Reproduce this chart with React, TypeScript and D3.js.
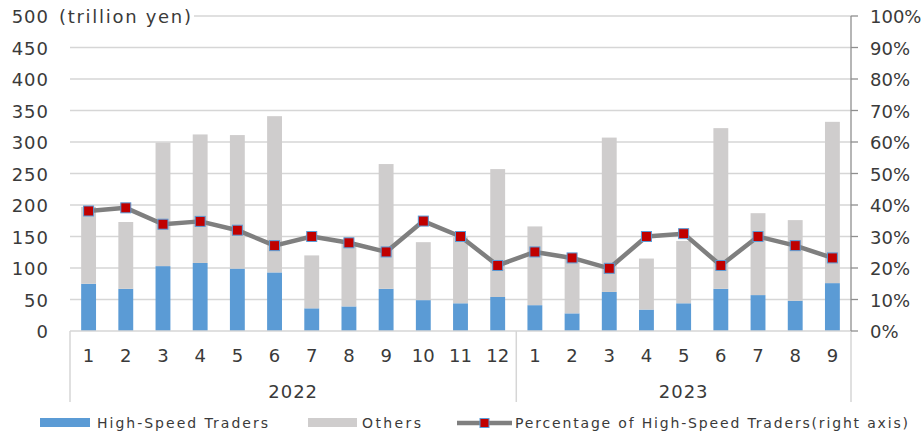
import { useEffect, useRef } from 'react'
import * as d3 from 'd3';

// Monthly turnover (trillion yen) and share of high-speed traders
const years = ['2022', '2023'];
const months = ['1', '2', '3', '4', '5', '6', '7', '8', '9', '10', '11', '12', '1', '2', '3', '4', '5', '6', '7', '8', '9'];
const monthYear = [0, 0, 0, 0, 0, 0, 0, 0, 0, 0, 0, 0, 1, 1, 1, 1, 1, 1, 1, 1, 1];
const highSpeed = [75, 67, 103, 108, 99, 93, 36, 39, 67, 49, 44, 54, 41, 28, 62, 34, 44, 67, 57, 48, 76];
const others = [122, 106, 196, 204, 212, 248, 84, 101, 198, 92, 105, 203, 125, 87, 245, 81, 99, 255, 130, 128, 256];
const hstShare = [38.1, 39.1, 33.9, 34.8, 32.0, 27.1, 30.0, 28.0, 25.1, 34.9, 30.0, 20.8, 25.1, 23.2, 19.9, 30.0, 30.9, 20.8, 30.0, 27.1, 23.2];
const leftTicks = [0, 50, 100, 150, 200, 250, 300, 350, 400, 450, 500];
const rightTicks = [0, 10, 20, 30, 40, 50, 60, 70, 80, 90, 100];

const App = () => {

  const canvas = useRef<SVGSVGElement>(null);

  useEffect(() => {

    const svg = d3.select(canvas.current);
    svg.selectAll('*').remove();

    const font = '"DejaVu Sans", sans-serif';
    const textColor = '#3a3a3a';
    const left = 70, right = 851, top = 16, bottom = 331;

    const x = d3.scaleBand<number>()
      .domain(months.map((d, i) => i))
      .range([left, right])
      .paddingInner(0.6)
      .paddingOuter(0.3);

    const y = d3.scaleLinear().domain([0, 500]).range([bottom, top]);
    const yr = d3.scaleLinear().domain([0, 100]).range([bottom, top]);

    // Gridlines
    svg.append('g')
      .selectAll('line')
      .data(leftTicks.slice(1))
      .join('line')
      .attr('x1', left).attr('x2', right)
      .attr('y1', (d) => y(d)).attr('y2', (d) => y(d))
      .attr('stroke', '#d6d6d6').attr('stroke-width', 1.3);

    // Left axis labels
    svg.append('g')
      .selectAll('text')
      .data(leftTicks)
      .join('text')
      .attr('x', 49)
      .attr('y', (d) => y(d) + 7)
      .attr('text-anchor', 'end')
      .attr('font-family', font).attr('font-size', 18).attr('letter-spacing', 1)
      .attr('fill', textColor)
      .text((d) => d);

    // Unit label
    svg.append('rect').attr('x', 56).attr('y', 4).attr('width', 138).attr('height', 22).attr('fill', '#fff');
    svg.append('text')
      .attr('x', 59).attr('y', y(500) + 7)
      .attr('font-family', font).attr('font-size', 18)
      .attr('fill', textColor)
      .attr('textLength', 132)
      .text('(trillion yen)');

    // Stacked bars
    const bars = svg.append('g');
    bars.selectAll('rect.hst')
      .data(highSpeed)
      .join('rect')
      .attr('class', 'hst')
      .attr('x', (d, i) => x(i))
      .attr('width', x.bandwidth())
      .attr('y', (d) => y(d))
      .attr('height', (d) => y(0) - y(d))
      .attr('fill', '#5b9bd5');
    bars.selectAll('rect.oth')
      .data(others)
      .join('rect')
      .attr('class', 'oth')
      .attr('x', (d, i) => x(i))
      .attr('width', x.bandwidth())
      .attr('y', (d, i) => y(d + highSpeed[i]))
      .attr('height', (d) => y(0) - y(d))
      .attr('fill', '#cfcdcd');

    // Bottom axis and category separators
    svg.append('line')
      .attr('x1', left).attr('x2', right).attr('y1', bottom).attr('y2', bottom)
      .attr('stroke', '#d6d6d6').attr('stroke-width', 1.5);
    const splits = [0, 12, 21];
    svg.append('g')
      .selectAll('line')
      .data(splits)
      .join('line')
      .attr('x1', (d) => left + d * x.step()).attr('x2', (d) => left + d * x.step())
      .attr('y1', bottom).attr('y2', 402)
      .attr('stroke', '#d6d6d6').attr('stroke-width', 1.5);

    // Month labels
    svg.append('g')
      .selectAll('text')
      .data(months)
      .join('text')
      .attr('x', (d, i) => x(i) + x.bandwidth() / 2)
      .attr('y', 362)
      .attr('text-anchor', 'middle')
      .attr('font-family', font).attr('font-size', 18)
      .attr('fill', textColor)
      .text((d) => d);

    // Year labels
    svg.append('g')
      .selectAll('text')
      .data(years)
      .join('text')
      .attr('x', (d, i) => {
        const idx = monthYear.map((m, j) => m === i ? j : -1).filter((j) => j >= 0);
        return (x(idx[0]) + x(idx[idx.length - 1]) + x.bandwidth()) / 2;
      })
      .attr('y', 398)
      .attr('text-anchor', 'middle')
      .attr('font-family', font).attr('font-size', 18).attr('letter-spacing', 1)
      .attr('fill', textColor)
      .text((d) => d);

    // Right axis
    svg.append('line')
      .attr('x1', right).attr('x2', right).attr('y1', top).attr('y2', bottom)
      .attr('stroke', '#8f8f8f').attr('stroke-width', 1.3);
    svg.append('g')
      .selectAll('line')
      .data(rightTicks)
      .join('line')
      .attr('x1', right).attr('x2', right + 7)
      .attr('y1', (d) => yr(d)).attr('y2', (d) => yr(d))
      .attr('stroke', '#8f8f8f').attr('stroke-width', 1.3);
    svg.append('g')
      .selectAll('text')
      .data(rightTicks)
      .join('text')
      .attr('x', 870)
      .attr('y', (d) => yr(d) + 7)
      .attr('font-family', font).attr('font-size', 18)
      .attr('fill', textColor)
      .text((d) => d + '%');

    // Share line
    const line = d3.line<number>()
      .x((d, i) => x(i) + x.bandwidth() / 2)
      .y((d) => yr(d));
    svg.append('path')
      .datum(hstShare)
      .attr('d', line)
      .attr('fill', 'none')
      .attr('stroke', '#7f7f7f')
      .attr('stroke-width', 4.5)
      .attr('stroke-linejoin', 'round');
    svg.append('g')
      .selectAll('rect')
      .data(hstShare)
      .join('rect')
      .attr('x', (d, i) => x(i) + x.bandwidth() / 2 - 5)
      .attr('y', (d) => yr(d) - 5)
      .attr('width', 10).attr('height', 10)
      .attr('fill', '#c00000')
      .attr('stroke', '#5b9bd5').attr('stroke-width', 1);

    // Legend
    const lg = svg.append('g').attr('font-family', font).attr('font-size', 14).attr('fill', textColor);
    lg.append('rect').attr('x', 40).attr('y', 418).attr('width', 50).attr('height', 9).attr('fill', '#5b9bd5');
    lg.append('text').attr('x', 97).attr('y', 428).attr('textLength', 171).text('High-Speed Traders');
    lg.append('rect').attr('x', 308).attr('y', 418).attr('width', 49).attr('height', 9).attr('fill', '#cfcdcd');
    lg.append('text').attr('x', 362).attr('y', 428).attr('textLength', 59).text('Others');
    lg.append('line').attr('x1', 457).attr('x2', 512).attr('y1', 423).attr('y2', 423)
      .attr('stroke', '#7f7f7f').attr('stroke-width', 4.5);
    lg.append('rect').attr('x', 480).attr('y', 418.5).attr('width', 9).attr('height', 9)
      .attr('fill', '#c00000').attr('stroke', '#5b9bd5').attr('stroke-width', 1);
    lg.append('text').attr('x', 515).attr('y', 428).attr('textLength', 393).text('Percentage of High-Speed Traders(right axis)');

  }, []);

  return (
    <svg ref={canvas} width={922} height={433} style={{ position: 'absolute', left: 0, top: 0, background: '#fff' }} />
  );

}

export default App;
